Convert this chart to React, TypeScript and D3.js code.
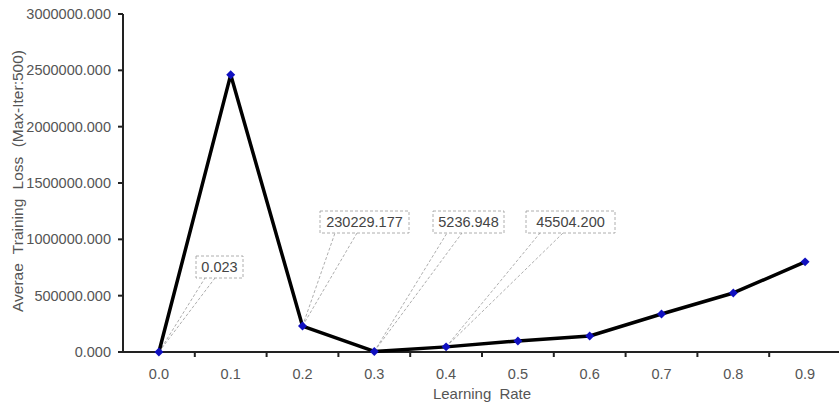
import React from 'react';
import * as d3 from 'd3';

// Learning rate categories and averaged loss values
const rates = ['0.0', '0.1', '0.2', '0.3', '0.4', '0.5', '0.6', '0.7', '0.8', '0.9'];
const losses = [0.023, 2460000, 230229.177, 5236.948, 45504.2, 98000, 142000, 337000, 524000, 800000];
const yTicks = [0, 500000, 1000000, 1500000, 2000000, 2500000, 3000000];

// callouts: index into data, box text, box position and where the leader lines meet the box
const callouts = [
  { i: 0, text: '0.023', bx: 196, by: 256, w: 47, a: 205, b: 215 },
  { i: 2, text: '230229.177', bx: 320, by: 211, w: 89, a: 335, b: 357 },
  { i: 3, text: '5236.948', bx: 433, by: 211, w: 71, a: 447, b: 462 },
  { i: 4, text: '45504.200', bx: 526, by: 211, w: 89, a: 540, b: 563 },
];

const W = 839;
const H = 404;
const margin = { top: 14, right: 0, bottom: 52, left: 123 };

const App: React.FC = () => {
  const x = d3.scaleBand<string>().domain(rates).range([margin.left, 841]);
  const y = d3.scaleLinear().domain([0, 3000000]).range([H - margin.bottom, margin.top]);
  const cx = (i: number) => (x(rates[i]) as number) + x.bandwidth() / 2;

  const line = d3
    .line<number>()
    .x((_, i) => cx(i))
    .y((d) => y(d));

  const font = 'Liberation Sans, Arial, sans-serif';
  const grey = '#555';
  const bottom = y(0);

  return (
    <svg width={W} height={H} style={{ position: 'absolute', left: 0, top: 0, background: '#fff' }}>
      {/* y axis */}
      <line x1={margin.left} x2={margin.left} y1={y(3000000)} y2={bottom} stroke="#222" strokeWidth={2} />
      {yTicks.map((t) => (
        <g key={t}>
          <line x1={margin.left - 5} x2={margin.left} y1={y(t)} y2={y(t)} stroke="#222" strokeWidth={2} />
          <text x={margin.left - 12} y={y(t)} dy="0.35em" textAnchor="end" fontFamily={font} fontSize={14.5} fill={grey}>
            {d3.format('.3f')(t)}
          </text>
        </g>
      ))}
      {/* x axis */}
      <line x1={margin.left} x2={W} y1={bottom} y2={bottom} stroke="#222" strokeWidth={2} />
      {rates.map((r, i) => (
        <g key={r}>
          <line x1={(x(r) as number) + x.bandwidth()} x2={(x(r) as number) + x.bandwidth()} y1={bottom} y2={bottom + 5} stroke="#222" strokeWidth={2} />
          <text x={cx(i)} y={bottom + 27} textAnchor="middle" fontFamily={font} fontSize={14.5} fill={grey}>
            {r}
          </text>
        </g>
      ))}
      <text x={482} y={399} textAnchor="middle" fontFamily={font} fontSize={15} wordSpacing={4} fill={grey}>
        Learning Rate
      </text>
      <text
        transform={`translate(23,181) rotate(-90)`}
        textAnchor="middle"
        fontFamily={font}
        fontSize={15.5}
        wordSpacing={5}
        fill={grey}
      >
        Averae Training Loss (Max-Iter:500)
      </text>
      {/* callouts */}
      {callouts.map((c) => {
        const px = cx(c.i);
        const py = y(losses[c.i]);
        const bb = c.by + 22;
        return (
          <g key={c.text}>
            <line x1={px} y1={py} x2={c.a} y2={bb} stroke="#999" strokeWidth={0.8} strokeDasharray="3,2" />
            <line x1={px} y1={py} x2={c.b} y2={bb} stroke="#999" strokeWidth={0.8} strokeDasharray="3,2" />
            <rect x={c.bx} y={c.by} width={c.w} height={22} fill="#fff" stroke="#999" strokeWidth={0.8} strokeDasharray="3,2" />
            <text x={c.bx + c.w / 2} y={c.by + 11} dy="0.35em" textAnchor="middle" fontFamily={font} fontSize={14.5} fill="#444">
              {c.text}
            </text>
          </g>
        );
      })}
      {/* series */}
      <path d={line(losses) as string} fill="none" stroke="#000" strokeWidth={3.5} strokeLinejoin="round" />
      {losses.map((v, i) => (
        <path
          key={i}
          d={d3.symbol(d3.symbolSquare, 40)() as string}
          transform={`translate(${cx(i)},${y(v)}) rotate(45)`}
          fill="#1010c0"
        />
      ))}
    </svg>
  );
};

export default App;
